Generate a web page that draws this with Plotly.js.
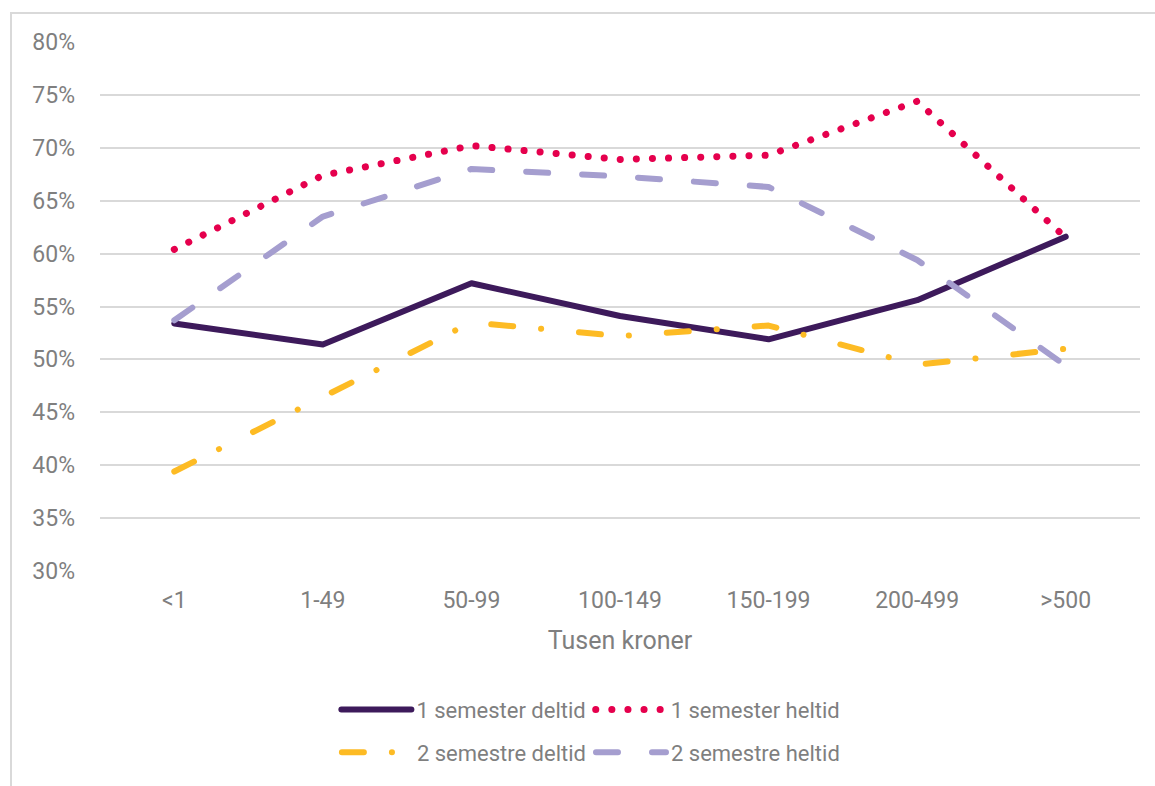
<!DOCTYPE html>
<html>
<head>
<meta charset="utf-8">
<script src="https://cdn.plot.ly/plotly-3.0.1.min.js"></script>
<style>
  html, body { margin: 0; padding: 0; background: #ffffff; }
  #frame { position: absolute; left: 10px; top: 12px; width: 1200px; height: 800px;
           border-left: 2px solid #d9d9d9; border-top: 2px solid #d9d9d9; box-sizing: border-box; }
  #chart { position: absolute; left: 0; top: 0; width: 1155px; height: 786px; }
  .js-line { stroke-linecap: round !important; stroke-linejoin: round !important; }
</style>
</head>
<body>
<div id="frame"></div>
<div id="chart"></div>
<script>
const categories = ['<1', '1-49', '50-99', '100-149', '150-199', '200-499', '>500'];
const sem1Deltid = [53.4, 51.4, 57.2, 54.1, 51.9, 55.6, 61.6];
const sem1Heltid = [60.4, 67.4, 70.2, 68.9, 69.3, 74.4, 61.5];
const sem2Deltid = [39.4, 46.5, 53.5, 52.2, 53.2, 49.5, 51.0];
const sem2Heltid = [53.7, 63.5, 68.0, 67.3, 66.3, 59.4, 49.4];
const yTicks = [30, 35, 40, 45, 50, 55, 60, 65, 70, 75, 80];

const xIdx = categories.map((_, i) => i);
function tr(name, y, color, width, dash, legend) {
  return { type: 'scatter', mode: 'lines', name: name, x: xIdx, y: y,
    line: { color: color, width: width, dash: dash }, legend: legend, hoverinfo: 'skip' };
}
const data = [
  tr('1 semester deltid', sem1Deltid, '#3d1a5b', 6, 'solid', 'legend'),
  tr('1 semester heltid', sem1Heltid, '#e5004d', 7, '0.1px,16px', 'legend'),
  tr('2 semestre deltid', sem2Deltid, '#fdbb24', 6, '22px,28px,0.1px,38px', 'legend2'),
  tr('2 semestre heltid', sem2Heltid, '#a59ecf', 6, '22px,34px', 'legend2')
];
const font = { family: 'Roboto, sans-serif', color: '#7f7f7f', size: 22 };
const layout = {
  width: 1155, height: 786,
  margin: { l: 100, r: 15, t: 42, b: 211 },
  paper_bgcolor: 'rgba(0,0,0,0)', plot_bgcolor: 'rgba(0,0,0,0)',
  font: font,
  showlegend: true,
  xaxis: {
    range: [-0.5, 6.5], tickmode: 'array', tickvals: xIdx, ticktext: categories,
    showgrid: false, zeroline: false, showline: false, ticks: '',
    ticklabelstandoff: 13,
    tickfont: { family: 'Roboto, sans-serif', color: '#7f7f7f', size: 23 },
    title: { text: 'Tusen kroner', font: { family: 'Roboto, sans-serif', color: '#7f7f7f', size: 25 }, standoff: 18 }
  },
  yaxis: {
    range: [30, 80], tickmode: 'array', tickvals: yTicks, ticktext: yTicks.map(v => v + '%'),
    showgrid: true, gridcolor: '#d9d9d9', gridwidth: 2, zeroline: false, showline: false, ticks: '',
    ticklabelstandoff: 24,
    tickfont: { family: 'Roboto, sans-serif', color: '#7f7f7f', size: 23 }
  },
  legend: {
    orientation: 'h', x: 0.472, xanchor: 'center', y: -0.262, yanchor: 'middle',
    itemwidth: 70, font: font, bgcolor: 'rgba(0,0,0,0)', tracegroupgap: 0
  },
  legend2: {
    orientation: 'h', x: 0.472, xanchor: 'center', y: -0.343, yanchor: 'middle',
    itemwidth: 70, font: font, bgcolor: 'rgba(0,0,0,0)', tracegroupgap: 0
  }
};
Plotly.newPlot('chart', data, layout, { staticPlot: true, displayModeBar: false });
</script>
</body>
</html>
